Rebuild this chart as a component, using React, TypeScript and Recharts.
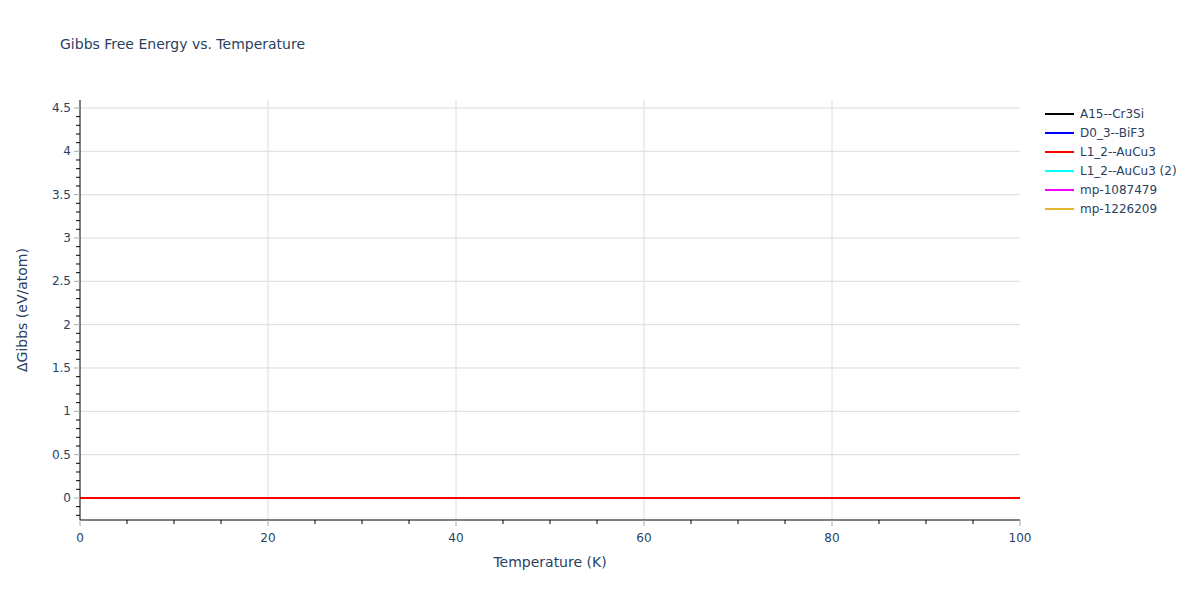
import { LineChart, Line, XAxis, YAxis, ReferenceLine } from 'recharts';

const temperatures = [0, 10, 20, 30, 40, 50, 60, 70, 80, 90, 100];
const a15Cr3Si = [0, 0, 0, 0, 0, 0, 0, 0, 0, 0, 0];
const d03BiF3 = [0, 0, 0, 0, 0, 0, 0, 0, 0, 0, 0];
const l12AuCu3 = [0, 0, 0, 0, 0, 0, 0, 0, 0, 0, 0];
const l12AuCu3b = [0, 0, 0, 0, 0, 0, 0, 0, 0, 0, 0];
const mp1087479 = [0, 0, 0, 0, 0, 0, 0, 0, 0, 0, 0];
const mp1226209 = [0, 0, 0, 0, 0, 0, 0, 0, 0, 0, 0];

const xMajor = [0, 20, 40, 60, 80, 100];
const xMinor = [0, 5, 10, 15, 20, 25, 30, 35, 40, 45, 50, 55, 60, 65, 70, 75, 80, 85, 90, 95, 100];
const yMajor = [0, 0.5, 1, 1.5, 2, 2.5, 3, 3.5, 4, 4.5];
// minor ticks every 0.1 from -0.2 to 4.5
const yMinor = Array.from({ length: 48 }, (_, i) => (i - 2) / 10);

const series = [
  { key: 'a15', name: 'A15--Cr3Si', color: '#000000', values: a15Cr3Si },
  { key: 'd03', name: 'D0_3--BiF3', color: '#0000ff', values: d03BiF3 },
  { key: 'l12', name: 'L1_2--AuCu3', color: '#ff0000', values: l12AuCu3 },
  { key: 'l12b', name: 'L1_2--AuCu3 (2)', color: '#00ffff', values: l12AuCu3b },
  { key: 'mp1', name: 'mp-1087479', color: '#ff00ff', values: mp1087479 },
  { key: 'mp2', name: 'mp-1226209', color: '#e5b52d', values: mp1226209 },
];

const data = temperatures.map((t, i) => {
  const row: Record<string, number> = { t };
  series.forEach(s => { row[s.key] = s.values[i]; });
  return row;
});

const FONT = '"DejaVu Sans", Verdana, sans-serif';
const TEXT = '#2a3f5f';
const GRID = '#dcdcdc';

const isMajor = (v: number, step: number) => Math.abs(v / step - Math.round(v / step)) < 1e-6;

function YTick({ x, y, payload }: any) {
  const v = Math.round(payload.value * 10) / 10;
  if (isMajor(v, 0.5)) {
    return (
      <g>
        <line x1={x - 6} x2={x} y1={y} y2={y} stroke="#aaaaaa" />
        <text x={x - 9} y={y} dy={4} textAnchor="end" fill={TEXT} fontSize={12} fontFamily={FONT}>{String(v)}</text>
      </g>
    );
  }
  return <line x1={x - 4} x2={x} y1={y} y2={y} stroke="#000" />;
}

function XTick({ x, y, payload }: any) {
  const v = payload.value;
  if (xMajor.includes(v)) {
    return (
      <g>
        <line x1={x} x2={x} y1={y} y2={y + 6} stroke="#aaaaaa" />
        <text x={x} y={y + 22} textAnchor="middle" fill={TEXT} fontSize={12} fontFamily={FONT}>{v}</text>
      </g>
    );
  }
  return <line x1={x} x2={x} y1={y} y2={y + 4} stroke="#000" />;
}

const drawOrder = ['a15', 'd03', 'l12b', 'mp1', 'mp2', 'l12'];

export default function App() {
  return (
    <div style={{ position: 'absolute', left: 0, top: 0, width: 1200, height: 600, background: '#fff', fontFamily: FONT }}>
      <div style={{ position: 'absolute', left: 60, top: 36, fontSize: 14, color: TEXT, whiteSpace: 'nowrap' }}>
        Gibbs Free Energy vs. Temperature
      </div>
      <div style={{ position: 'absolute', left: 550, top: 554, transform: 'translateX(-50%)', fontSize: 14, color: TEXT, whiteSpace: 'nowrap' }}>
        Temperature (K)
      </div>
      <div style={{ position: 'absolute', left: 22, top: 310, transform: 'translate(-50%, -50%) rotate(-90deg)', fontSize: 14, color: TEXT, whiteSpace: 'nowrap' }}>
        ΔGibbs (eV/atom)
      </div>
      <div style={{ position: 'absolute', left: 1045, top: 104, fontSize: 12, color: TEXT }}>
        {series.map(s => (
          <div key={s.key} style={{ display: 'flex', alignItems: 'center', height: 19 }}>
            <div style={{ width: 29, height: 2, background: s.color, marginRight: 6 }} />
            <span style={{ whiteSpace: 'nowrap' }}>{s.name}</span>
          </div>
        ))}
      </div>
      <LineChart width={1200} height={600} data={data} margin={{ top: 100, right: 180, bottom: 50, left: 0 }}>
        {yMajor.filter(v => v !== 0).map(v => (
          <ReferenceLine key={'gy' + v} y={v} stroke={GRID} strokeWidth={1} />
        ))}
        {xMajor.filter(v => v !== 0 && v !== 100).map(v => (
          <ReferenceLine key={'gx' + v} x={v} stroke={GRID} strokeWidth={1} />
        ))}
        <XAxis
          dataKey="t"
          type="number"
          domain={[0, 100]}
          ticks={xMinor}
          interval={0}
          height={30}
          tickSize={0}
          tickMargin={0}
          tick={<XTick />}
          axisLine={{ stroke: '#000' }}
          tickLine={false}
        />
        <YAxis
          type="number"
          domain={[-0.254, 4.592]}
          allowDataOverflow
          ticks={yMinor}
          interval={0}
          width={80}
          tickSize={0}
          tickMargin={0}
          tick={<YTick />}
          axisLine={{ stroke: '#000' }}
          tickLine={false}
        />
        {drawOrder.map(k => {
          const s = series.find(x => x.key === k)!;
          return (
            <Line key={k} dataKey={k} name={s.name} stroke={s.color} strokeWidth={2} dot={false} isAnimationActive={false} />
          );
        })}
      </LineChart>
    </div>
  );
}
